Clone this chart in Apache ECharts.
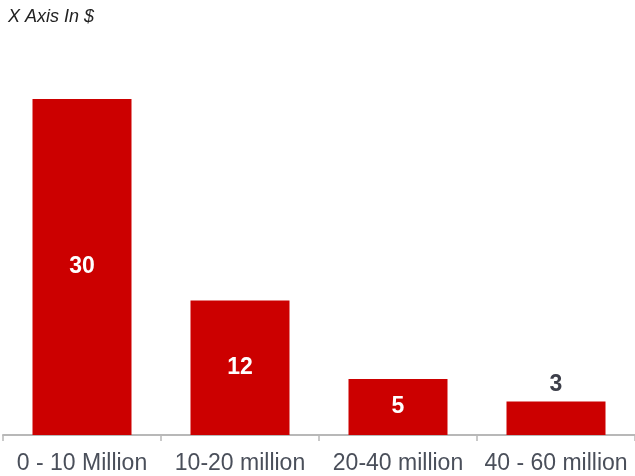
<!DOCTYPE html>
<html>
<head>
<meta charset="utf-8">
<script src="https://cdn.jsdelivr.net/npm/echarts@6/dist/echarts.min.js"></script>
<style>
html,body{margin:0;padding:0;background:#fff;}
#chart{width:635px;height:476px;}
</style>
</head>
<body>
<div id="chart"></div>
<script>
var categories = ['0 - 10 Million', '10-20 million', '20-40 million', '40 - 60 million'];
var counts = [30, 12, 5, 3];
// small bars get their label above the bar
var labelOutside = [false, false, false, true];

var chart = echarts.init(document.getElementById('chart'));
chart.setOption({
    animation: false,
    title: {
        text: 'X Axis In $',
        left: 3,
        top: 3,
        textStyle: {
            fontFamily: 'Liberation Sans, Arial',
            fontStyle: 'italic',
            fontWeight: 'normal',
            fontSize: 18,
            color: '#222'
        }
    },
    grid: { left: 3, right: 0, top: 99, bottom: 41 },
    xAxis: {
        type: 'category',
        data: categories,
        axisLine: { lineStyle: { color: '#b8b8b8', width: 2 } },
        axisTick: { show: true, interval: 0, length: 6, lineStyle: { color: '#b8b8b8', width: 1.5 } },
        axisLabel: {
            interval: 0,
            margin: 17,
            fontFamily: 'Liberation Sans, Arial',
            fontSize: 23,
            color: '#4a4f5a'
        }
    },
    yAxis: {
        type: 'value',
        min: 0,
        max: 30,
        show: false
    },
    series: [{
        type: 'bar',
        barWidth: 99,
        itemStyle: { color: '#cc0000' },
        data: counts.map(function (v, i) {
            return {
                value: v,
                label: labelOutside[i]
                    ? { position: 'top', color: '#3d3f4a', distance: 5 }
                    : { position: 'inside', color: '#ffffff' }
            };
        }),
        label: {
            show: true,
            fontFamily: 'Liberation Sans, Arial',
            fontWeight: 'bold',
            fontSize: 23
        }
    }]
});
</script>
</body>
</html>
